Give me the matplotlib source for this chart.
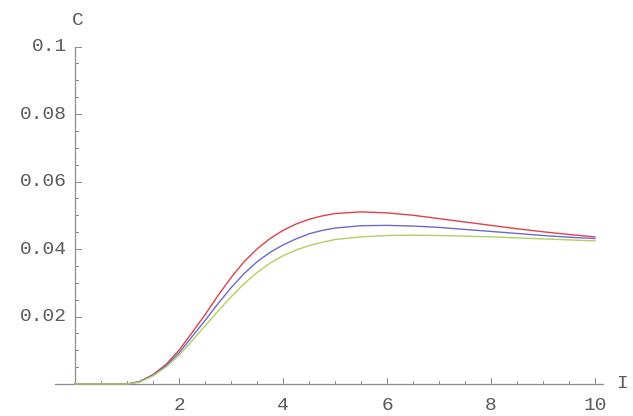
import numpy as np
import matplotlib.pyplot as plt

# значения
x = [0, 0.5, 1.0, 1.25, 1.5, 1.75, 2.0, 2.25, 2.5, 2.75, 3.0, 3.25, 3.5, 3.75, 4.0,
     4.25, 4.5, 4.75, 5.0, 5.5, 6.0, 6.5, 7.0, 7.5, 8.0, 8.5, 9.0, 9.5, 10.0]
red = [0, 0, 0, 0.0008, 0.0028, 0.0058, 0.0100, 0.0152, 0.0205, 0.0262, 0.0315, 0.0362,
       0.0400, 0.0431, 0.0455, 0.0474, 0.0488, 0.0498, 0.0505, 0.0510, 0.0507, 0.0500,
       0.0490, 0.0480, 0.0470, 0.0460, 0.0451, 0.0443, 0.0436]
blue = [0, 0, 0, 0.0007, 0.0026, 0.0054, 0.0092, 0.0140, 0.0188, 0.0238, 0.0285, 0.0327,
        0.0362, 0.0390, 0.0412, 0.0430, 0.0445, 0.0455, 0.0462, 0.0469, 0.0470, 0.0468,
        0.0464, 0.0458, 0.0452, 0.0446, 0.0440, 0.0435, 0.0431]
green = [0, 0, 0, 0.0006, 0.0024, 0.0050, 0.0085, 0.0128, 0.0172, 0.0216, 0.0258, 0.0297,
         0.0330, 0.0358, 0.0380, 0.0397, 0.0410, 0.0420, 0.0428, 0.0436, 0.0440, 0.0441,
         0.0440, 0.0438, 0.0436, 0.0433, 0.0430, 0.0427, 0.0424]

x_ticks = [2, 4, 6, 8, 10]
y_ticks = [0.02, 0.04, 0.06, 0.08, 0.1]
y_labels = ['0.02', '0.04', '0.06', '0.08', '0.1']

fig = plt.figure(figsize=(6.33, 4.16), dpi=100)
ax = fig.add_axes([0, 0, 1, 1])
ax.set_xlim(-75 / 52, 558 / 52)
ax.set_ylim(-32 / 3375, 384 / 3375)
ax.axis('off')

axis_col = '#8a8a8a'
text_col = '#5a5a5a'
font = dict(family='Liberation Mono', size=14, color=text_col)

# оси
ax.plot([-0.38, 10.15], [0, 0], color=axis_col, lw=0.9, zorder=1)
ax.plot([0, 0], [0, 0.1], color=axis_col, lw=0.9, zorder=1)

# деления
dy = 6 / 3375
dx = 6 / 52
for t in np.arange(0.5, 10.01, 0.5):
    h = dy if t in x_ticks else dy / 2
    ax.plot([t, t], [0, h], color=axis_col, lw=0.7)
for t in np.arange(0.005, 0.1001, 0.005):
    w = dx if any(abs(t - v) < 1e-9 for v in y_ticks) else dx / 2
    ax.plot([0, w], [t, t], color=axis_col, lw=0.7)

for t in x_ticks:
    ax.text(t, -21 / 3375, str(t), ha='center', va='center', **font)
for t, lab in zip(y_ticks, y_labels):
    ax.text(-8 / 52, t, lab, ha='right', va='center', **font)

ax.text(0.05, 0.1077, 'C', ha='center', va='center', **font)
ax.text(10.4, 0, 'I', ha='left', va='center', **font)

# кривые
ax.plot(x, red, color='#e0404a', lw=1.0, zorder=3)
ax.plot(x, blue, color='#6a6ad0', lw=1.0, zorder=3)
ax.plot(x, green, color='#b0d060', lw=1.0, zorder=3)

fig.savefig('out.png', dpi=100)
